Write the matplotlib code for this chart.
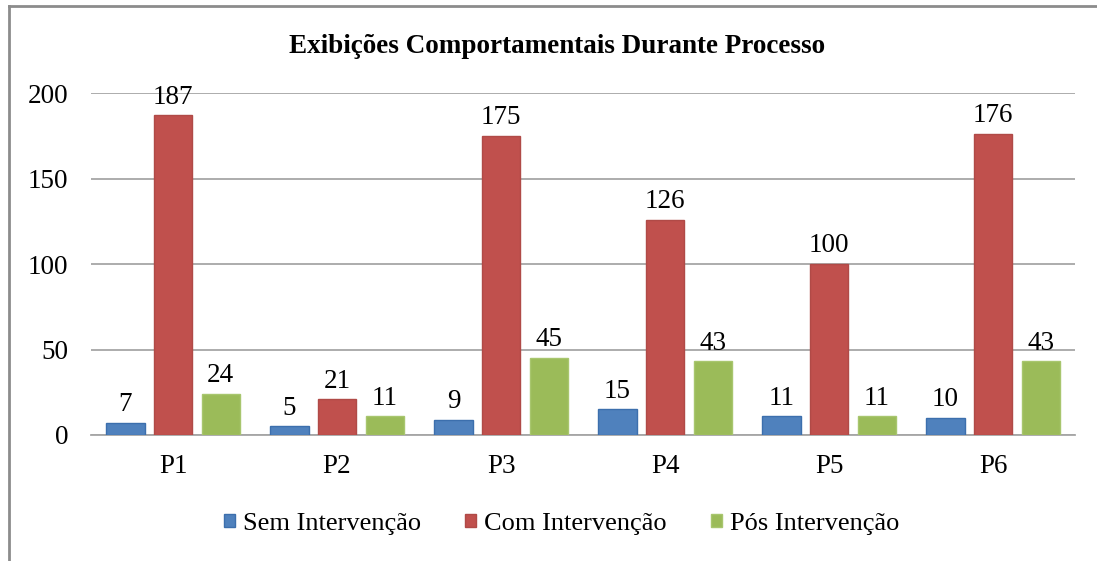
import numpy as np
import matplotlib
matplotlib.use("Agg")
import matplotlib.pyplot as plt
from matplotlib.lines import Line2D

categories = ["P1", "P2", "P3", "P4", "P5", "P6"]
sem = [7, 5, 9, 15, 11, 10]
com = [187, 21, 175, 126, 100, 176]
pos = [24, 11, 45, 43, 11, 43]
series_names = ["Sem Intervenção", "Com Intervenção", "Pós Intervenção"]

plt.rcParams['font.family'] = ['Liberation Serif', 'DejaVu Serif']

fig = plt.figure(figsize=(10.97, 5.61), dpi=100)
ax = fig.add_axes([0.083, 0.2246, 0.897, 0.6096])

x = np.arange(len(categories))
w = 0.232
off = 0.29
colors = ["#4F81BD", "#C0504D", "#9BBB59"]
edges = ["#3C6FAD", "#B04A47", "#A8C66E"]
for i, vals in enumerate([sem, com, pos]):
    bars = ax.bar(x + (i - 1) * off, vals, w, color=colors[i], edgecolor=edges[i],
                  linewidth=1, label=series_names[i], zorder=3)
    for b, v in zip(bars, vals):
        ax.annotate(str(v), (b.get_x() + b.get_width() / 2, v), xytext=(0, 4),
                    textcoords="offset points", ha="center", va="bottom", fontsize=19.5)

ax.set_xlim(-0.5, len(categories) - 0.5)
ax.set_ylim(0, 200)
ax.set_yticks([0, 50, 100, 150, 200])
ax.set_xticks(x)
ax.set_xticklabels(categories)
ax.tick_params(axis="both", length=0, labelsize=19.5)
ax.tick_params(axis="y", pad=16.5)
ax.tick_params(axis="x", pad=14)
ax.yaxis.grid(True, color="#A6A6A6", linewidth=1.3, zorder=0)
for s in ["top", "right", "left"]:
    ax.spines[s].set_visible(False)
ax.spines["bottom"].set_color("#A6A6A6")
ax.spines["bottom"].set_linewidth(1.3)

fig.text(0.508, 0.918, "Exibições Comportamentais Durante Processo", ha="center", va="center",
         fontsize=19.5, fontweight="bold")

fig.legend(loc="center", bbox_to_anchor=(0.512, 0.066), ncol=3, frameon=False, fontsize=19,
           handlelength=0.4, handleheight=0.4, handletextpad=0.3, columnspacing=1.7)

# chart border (right and bottom edges fall outside the image)
fig.add_artist(Line2D([0.0082, 1.0], [0.989, 0.989], color="#8C8C8C", linewidth=2, transform=fig.transFigure))
fig.add_artist(Line2D([0.0082, 0.0082], [0.0, 0.989], color="#8C8C8C", linewidth=2, transform=fig.transFigure))

fig.savefig("out.png", dpi=100)
